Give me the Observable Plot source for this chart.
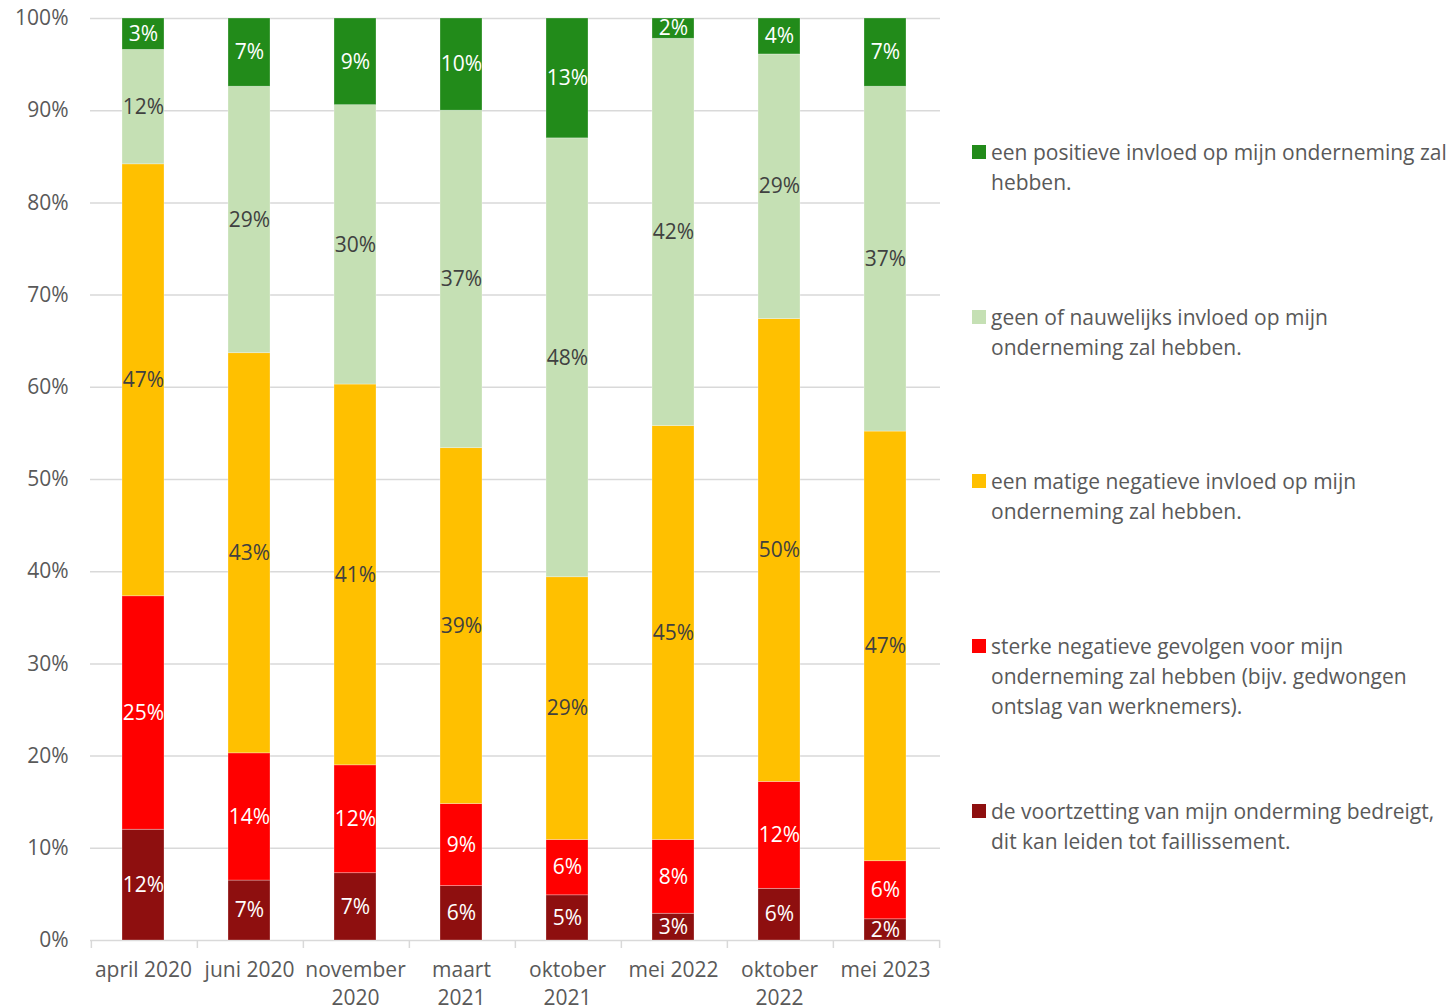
<!DOCTYPE html>
<html><head><meta charset="utf-8">
<script src="https://cdn.jsdelivr.net/npm/d3@7"></script>
<script src="https://cdn.jsdelivr.net/npm/@observablehq/plot@0.6"></script>
<style>
body{margin:0;background:#fff;font-family:"Open Sans",sans-serif;}
#wrap{position:relative;width:1448px;height:1008px;overflow:hidden;background:#fff}
#legend{position:absolute;left:972px;top:0;}
.item{position:absolute;left:0;white-space:pre;font-size:21px;line-height:30px;color:#595959;padding-left:19px;font-family:"Open Sans",sans-serif}
.sw{position:absolute;left:0;top:8px;width:14px;height:14px}
</style></head><body><div id="wrap"><div id="chart"></div><div id="legend"></div></div>
<script>
const categories = ["april 2020","juni 2020","november 2020","maart 2021","oktober 2021","mei 2022","oktober 2022","mei 2023"];
const tickLabels = ["april 2020","juni 2020","november\n2020","maart\n2021","oktober\n2021","mei 2022","oktober\n2022","mei 2023"];

// stacking order, bottom to top
const series = [
  "de voortzetting van mijn onderming bedreigt, dit kan leiden tot faillissement.",
  "sterke negatieve gevolgen voor mijn onderneming zal hebben (bijv. gedwongen ontslag van werknemers).",
  "een matige negatieve invloed op mijn onderneming zal hebben.",
  "geen of nauwelijks invloed op mijn onderneming zal hebben.",
  "een positieve invloed op mijn onderneming zal hebben."
];
const legendLabels = [
  "de voortzetting van mijn onderming bedreigt,\ndit kan leiden tot faillissement.",
  "sterke negatieve gevolgen voor mijn\nonderneming zal hebben (bijv. gedwongen\nontslag van werknemers).",
  "een matige negatieve invloed op mijn\nonderneming zal hebben.",
  "geen of nauwelijks invloed op mijn\nonderneming zal hebben.",
  "een positieve invloed op mijn onderneming zal\nhebben."
];
const colors = ["#8E0F0F","#FF0000","#FFC000","#C5E0B4","#228B1A"];
const labelColors = ["white","white","#404040","#404040","white"];

const bedreigd   = [12.0, 6.5, 7.3, 5.9, 4.9, 2.9, 5.6, 2.3];
const sterk      = [25.3,13.8,11.7, 8.9, 6.0, 8.0,11.6, 6.3];
const matig      = [46.8,43.4,41.3,38.6,28.5,44.9,50.2,46.6];
const geen       = [12.4,28.9,30.3,36.6,47.6,42.0,28.7,37.4];
const positief   = [ 3.4, 7.4, 9.4,10.0,13.0, 2.2, 3.9, 7.4];
const seriesValues = [bedreigd, sterk, matig, geen, positief];

const rows = [];
series.forEach((s, si) => categories.forEach((c, ci) => rows.push({cat: c, series: s, si, value: seriesValues[si][ci]})));

const W = 1448, H = 1008, mL = 90, mR = 508, mT = 18, mB = 68;
const step = (W - mL - mR) / categories.length;
const grid = d3.range(0, 11).map(d => d / 10);
const stackOpts = {offset: "normalize", order: series, x: "cat", y: "value", z: "series"};

const chart = Plot.plot({
  width: W, height: H, marginLeft: mL, marginRight: mR, marginTop: mT, marginBottom: mB,
  style: {fontFamily: "Open Sans", fontSize: "21px", color: "#595959", background: "white"},
  x: {domain: categories, paddingInner: 0.6, paddingOuter: 0.3, align: 0.5, label: null},
  y: {domain: [0, 1], label: null},
  color: {domain: series, range: colors},
  marks: [
    Plot.ruleY(grid, {stroke: "#d9d9d9", strokeWidth: 1.5}),
    Plot.barY(rows, Plot.stackY({...stackOpts, fill: "series", stroke: "white", strokeOpacity: 0.35, strokeWidth: 0.8, dx: -1})),
    Plot.text(rows, Plot.stackY({...stackOpts, text: d => labelColors[d.si] === "white" ? Math.round(d.value) + "%" : "", fill: "white", fontSize: 21, dx: -1})),
    Plot.text(rows, Plot.stackY({...stackOpts, text: d => labelColors[d.si] !== "white" ? Math.round(d.value) + "%" : "", fill: "#404040", fontSize: 21, dx: -1})),
    Plot.ruleX(categories, {x: d => d, dx: -step / 2, insetTop: H - mT - mB, insetBottom: -8, stroke: "#d9d9d9", strokeWidth: 1.5}),
    Plot.ruleX(categories.slice(-1), {x: d => d, dx: step / 2, insetTop: H - mT - mB, insetBottom: -8, stroke: "#d9d9d9", strokeWidth: 1.5}),
    Plot.axisX({tickSize: 0, tickPadding: 16, tickFormat: d => tickLabels[categories.indexOf(d)], lineHeight: 1.35, fontSize: 21, fill: "#595959", label: null, dx: -1}),
    Plot.axisY({ticks: grid, tickFormat: d3.format(".0%"), tickSize: 0, tickPadding: 22, fontSize: 21, fill: "#595959", label: null})
  ]
});
document.getElementById("chart").appendChild(chart);

const legend = document.getElementById("legend");
for (let k = 0; k < series.length; k++) {
  const si = series.length - 1 - k;
  const item = document.createElement("div");
  item.className = "item";
  item.style.top = (137 + k * 164.7) + "px";
  const sw = document.createElement("div");
  sw.className = "sw";
  sw.style.background = colors[si];
  item.appendChild(sw);
  item.appendChild(document.createTextNode(legendLabels[si]));
  legend.appendChild(item);
}
</script></body></html>
